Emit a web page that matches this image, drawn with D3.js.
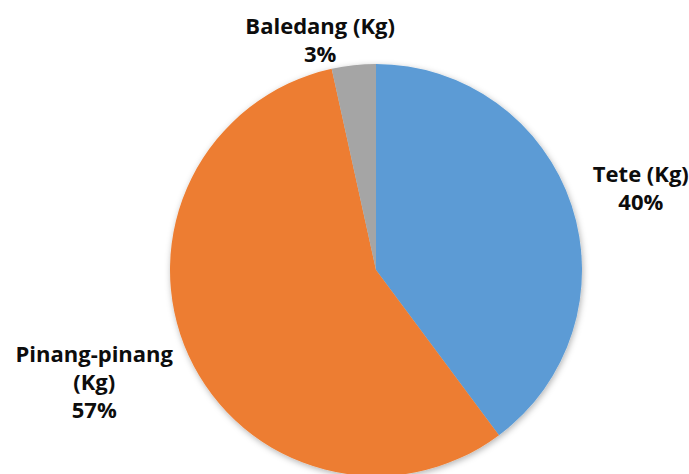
<!DOCTYPE html>
<html>
<head>
<meta charset="utf-8">
<script src="https://cdn.jsdelivr.net/npm/d3@7"></script>
<style>
  body { margin: 0; background: #fff; }
  .lbl { font-family: "Open Sans", sans-serif; font-weight: bold; font-size: 22px; fill: #0d0d0d; }
</style>
</head>
<body>
<div id="chart"></div>
<script>
// data
const categories = ["Tete (Kg)", "Pinang-pinang (Kg)", "Baledang (Kg)"];
const values = [39.8, 56.7, 3.45];
const colors = ["#5B9BD5", "#ED7D31", "#A5A5A5"];

const width = 689, height = 474;
const cx = 376, cy = 270, radius = 206;
const lineH = 28, pad = 25, maxLabelW = 170, topMargin = 13;

const data = categories.map((c, i) => ({ name: c, value: values[i], color: colors[i] }));
const total = d3.sum(values);
const fmt = d3.format(".0%");

const svg = d3.select("#chart").append("svg")
  .attr("width", width)
  .attr("height", height);

const defs = svg.append("defs");
const shadow = defs.append("filter").attr("id", "shadow")
  .attr("x", "-20%").attr("y", "-20%").attr("width", "140%").attr("height", "140%");
shadow.append("feDropShadow")
  .attr("dx", 1).attr("dy", 2).attr("stdDeviation", 3)
  .attr("flood-color", "#000").attr("flood-opacity", 0.3);

const pie = d3.pie().sort(null).value(d => d.value);
const arc = d3.arc().innerRadius(0).outerRadius(radius);
const arcs = pie(data);

const g = svg.append("g").attr("transform", "translate(" + cx + "," + cy + ")");

g.append("g").attr("filter", "url(#shadow)")
  .selectAll("path")
  .data(arcs)
  .enter().append("path")
  .attr("d", arc)
  .attr("fill", d => d.data.color);

// labels: wrap name, then push block just outside the pie edge
const labels = g.selectAll(".lbl")
  .data(arcs)
  .enter().append("text")
  .attr("class", "lbl")
  .attr("text-anchor", "middle");

labels.each(function(d) {
  const t = d3.select(this);
  const words = d.data.name.split(" ");
  const lines = [];
  let cur = "";
  words.forEach(w => {
    const test = cur ? cur + " " + w : w;
    t.text(test);
    if (cur && this.getComputedTextLength() > maxLabelW) {
      lines.push(cur);
      cur = w;
    } else {
      cur = test;
    }
  });
  lines.push(cur);
  lines.push(fmt(d.data.value / total));

  t.text(null);
  let w = 0;
  lines.forEach(l => {
    const s = t.append("tspan").text(l);
    w = Math.max(w, s.node().getComputedTextLength());
  });
  const h = lines.length * lineH;

  const a = (d.startAngle + d.endAngle) / 2;
  const sx = Math.sin(a), sy = -Math.cos(a);
  let x = sx * (radius + pad) + sx * w / 2;
  let y = sy * (radius + pad) + sy * h / 2;

  // keep the block inside the svg; slide sideways to clear the pie
  const top = cy + y - h / 2;
  if (top < topMargin) {
    const shift = topMargin - top;
    y += shift;
    x += (sx < 0 ? -1 : 1) * shift * 0.8;
  }

  const y0 = y - h / 2 + 21;
  t.selectAll("tspan")
    .attr("x", x)
    .attr("y", (l, i) => y0 + i * lineH);
});
</script>
</body>
</html>
